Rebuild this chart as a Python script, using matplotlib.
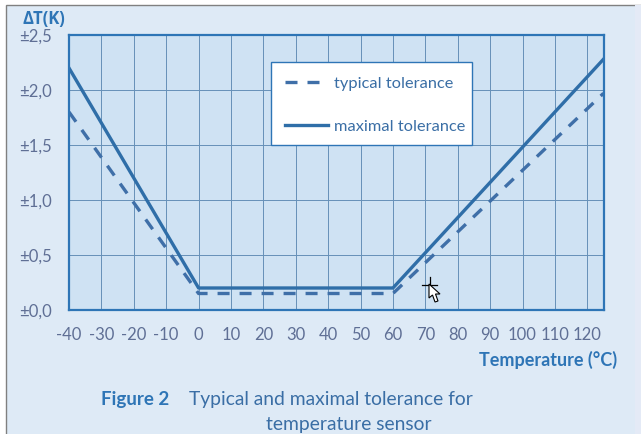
import matplotlib
matplotlib.use('Agg')
import matplotlib.pyplot as plt
from matplotlib.patches import Rectangle, Polygon

# Data
temp_typical = [-40, 0, 60, 125]
tol_typical = [1.8, 0.15, 0.15, 1.97]
temp_max = [-40, 0, 60, 125]
tol_max = [2.2, 0.2, 0.2, 2.28]
x_ticks = list(range(-40, 130, 10))
x_labels = [str(t) for t in x_ticks]
y_ticks = [0, 0.5, 1.0, 1.5, 2.0, 2.5]
y_labels = ['±0,0', '±0,5', '±1,0', '±1,5', '±2,0', '±2,5']

W, H = 641, 434
BLUE = '#2e75b6'
LINE = '#2f6ea8'
DASH = '#3f6fa8'
TICK = '#5f6f95'

plt.rcParams['font.family'] = ['Lato', 'DejaVu Sans']

fig = plt.figure(figsize=(W / 100, H / 100), dpi=100, facecolor='white')

# page background and its grey edge
page = Rectangle((5.5 / W, -0.01), (W - 5.5) / W + 0.01, 1 - 4.5 / H + 0.01, transform=fig.transFigure,
                 facecolor='#deeaf6', edgecolor='#808080', linewidth=1.0, zorder=-5)
fig.add_artist(page)
fig.add_artist(Rectangle((635 / W, 0), 6 / W, 1 - 5 / H, transform=fig.transFigure,
                         facecolor='#e4eaf6', edgecolor='none', zorder=-4))

ax = fig.add_axes([69 / W, 1 - 310 / H, (603.5 - 69) / W, (310 - 35) / H])
ax.set_facecolor('#cfe2f3')
ax.set_xlim(-40, 125)
ax.set_ylim(0, 2.5)
ax.set_xticks(x_ticks)
ax.set_xticklabels(x_labels)
ax.set_yticks(y_ticks)
ax.set_yticklabels(y_labels)
ax.grid(True, color='#6690b8', linewidth=0.7)
ax.set_axisbelow(True)
ax.tick_params(length=0, labelsize=12, labelcolor=TICK)
ax.tick_params(axis='x', pad=12)
ax.tick_params(axis='y', pad=12)
for s in ax.spines.values():
    s.set_color(BLUE)
    s.set_linewidth(1.6)

ax.plot(temp_typical, tol_typical, color=DASH, linewidth=2.4, linestyle=(0, (3.6, 3.0)),
        label='typical tolerance')
ax.plot(temp_max, tol_max, color=LINE, linewidth=2.4, label='maximal tolerance')

# legend box drawn apart from the entries, its paddings are not even
ax.add_patch(Rectangle(((271 - 69) / (603.5 - 69), 1 - (145 - 35) / 275), (472 - 271) / (603.5 - 69), (145 - 62) / 275,
                       transform=ax.transAxes, facecolor='white', edgecolor=BLUE, linewidth=1.0, zorder=4))
leg = ax.legend(loc='upper left', bbox_to_anchor=((285 - 69) / (603.5 - 69), 1 - (76.5 - 35) / 275),
                fontsize=11.8, frameon=False, handlelength=2.65, handletextpad=0.35, labelspacing=1.75,
                borderpad=0, borderaxespad=0, labelcolor='#3a6ea5')
leg.set_zorder(5)

fig.text(44 / W, 1 - 24 / H, 'ΔT(K)', fontsize=12, fontweight='bold', color=BLUE,
         ha='center', va='baseline', family=['Open Sans', 'DejaVu Sans'])
fig.text(617 / W, 1 - 366 / H, 'Temperature (°C)', fontsize=13, fontweight='bold', color=BLUE,
         ha='right', va='baseline')
fig.text(101 / W, 1 - 405 / H, 'Figure 2', fontsize=13.5, fontweight='bold', color=BLUE,
         ha='left', va='baseline')
fig.text(189 / W, 1 - 405 / H, 'Typical and maximal tolerance for', fontsize=13.9, color='#3a6ea5',
         ha='left', va='baseline')
fig.text(266 / W, 1 - 430 / H, 'temperature sensor', fontsize=13.9, color='#3a6ea5',
         ha='left', va='baseline')

# screenshot mouse pointer
def px(points):
    return [(p[0] / W, 1 - p[1] / H) for p in points]

for a, b in [((421.5, 284.5), (437, 284.5)), ((429.5, 277), (429.5, 292))]:
    xy = px([a, b])
    fig.add_artist(plt.Line2D([xy[0][0], xy[1][0]], [xy[0][1], xy[1][1]], color='black',
                              linewidth=0.9, transform=fig.transFigure, zorder=6))
fig.add_artist(Polygon(px([(429, 284), (429, 298), (432.5, 295), (435, 302), (438, 301),
                           (435.5, 294), (440, 294)]),
                       closed=True, facecolor='white', edgecolor='black', linewidth=0.8,
                       transform=fig.transFigure, zorder=7))

fig.savefig('out.png', dpi=100)
